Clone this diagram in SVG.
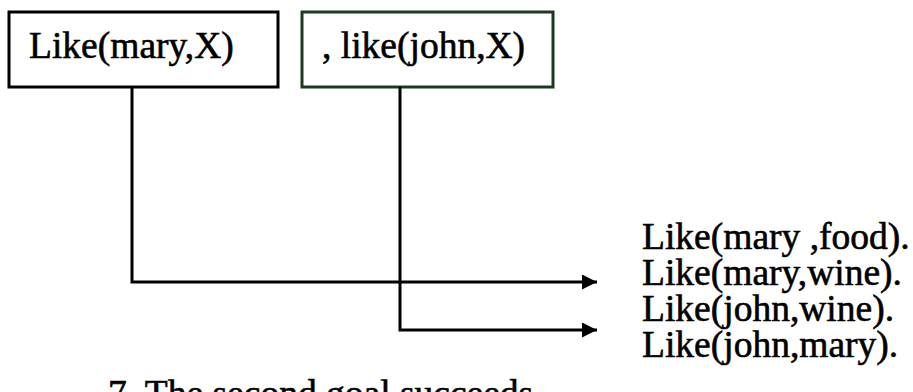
<svg xmlns="http://www.w3.org/2000/svg" width="913" height="392" viewBox="0 0 913 392">
<style>
.t{font-family:"Liberation Serif","Times New Roman",serif;font-size:37.5px;fill:#000;stroke:#000;stroke-width:0.6px}
.box{fill:#fff;stroke:#000;stroke-width:3}
.c{fill:none;stroke:#000;stroke-width:3}
</style>
<defs>
<marker id="ah" viewBox="0 0 10 10" refX="10" refY="5" markerWidth="6" markerHeight="5" markerUnits="strokeWidth" orient="auto">
<path d="M0,0 L10,5 L0,10 z" fill="#000"/>
</marker>
</defs>
<rect width="913" height="392" fill="#fff"/>
<g id="node-goal1">
<rect class="box" x="9" y="12" width="269" height="75"/>
<text class="t" x="29" y="58">Like(mary,X)</text>
</g>
<g id="node-goal2">
<rect class="box" x="302" y="12" width="251" height="75" style="stroke:#1e3a1e"/>
<text class="t" x="322" y="58">, like(john,X)</text>
</g>
<g id="node-facts">
<text class="t" x="642" y="249">Like(mary ,food).</text>
<text class="t" x="642" y="285">Like(mary,wine).</text>
<text class="t" x="642" y="321">Like(john,wine).</text>
<text class="t" x="642" y="357">Like(john,mary).</text>
</g>
<g id="node-caption">
<text class="t" x="108" y="406">7. The second goal succeeds</text>
</g>
<g id="connectors">
<path class="c" d="M132,87 V282 H597" marker-end="url(#ah)"/>
<path class="c" d="M400,87 V330 H597" marker-end="url(#ah)"/>
</g>
</svg>
